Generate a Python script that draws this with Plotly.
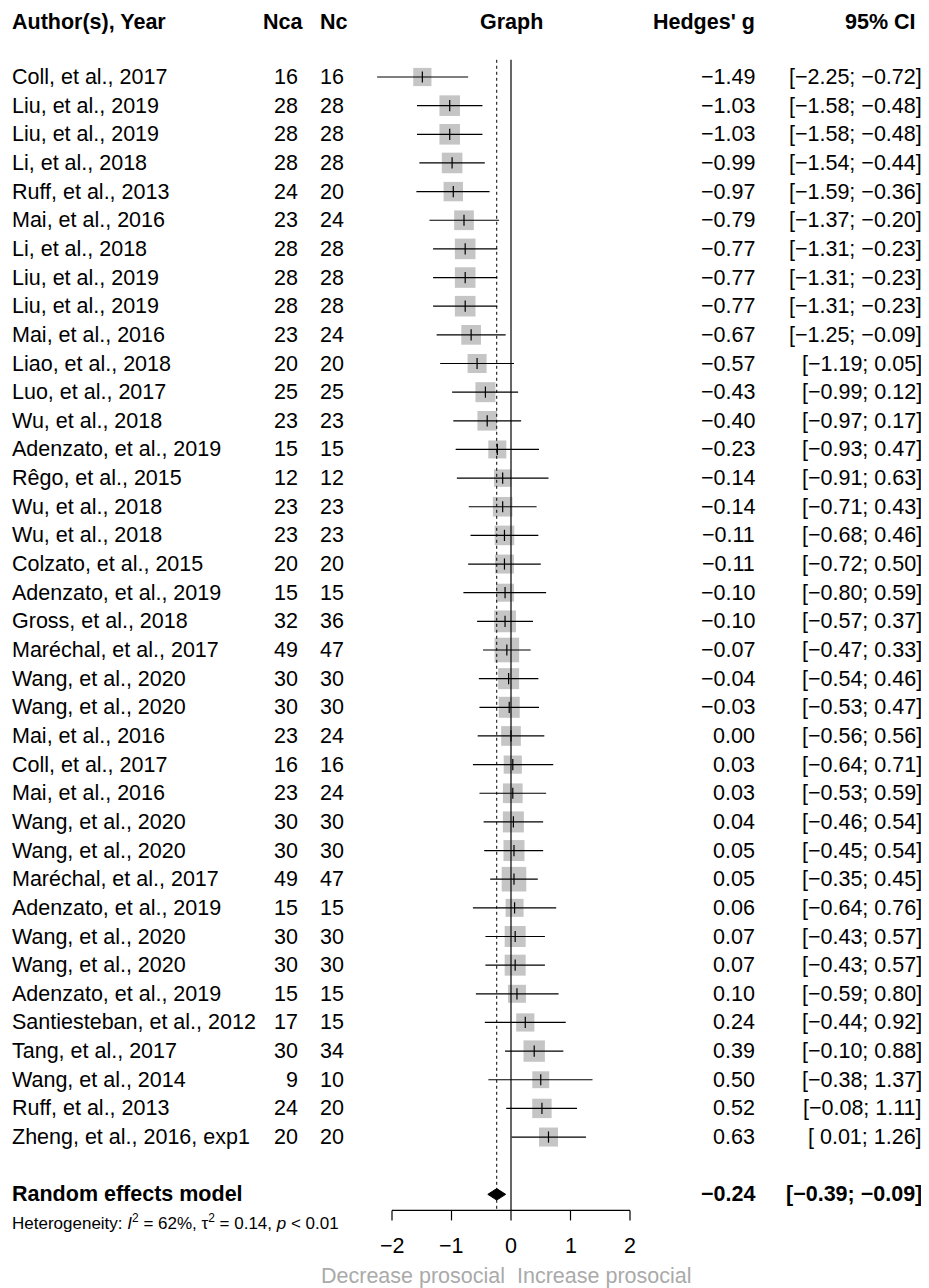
import plotly.graph_objects as go

authors = ["Coll, et al., 2017", "Liu, et al., 2019", "Liu, et al., 2019", "Li, et al., 2018",
           "Ruff, et al., 2013", "Mai, et al., 2016", "Li, et al., 2018", "Liu, et al., 2019",
           "Liu, et al., 2019", "Mai, et al., 2016", "Liao, et al., 2018", "Luo, et al., 2017",
           "Wu, et al., 2018", "Adenzato, et al., 2019", "Rêgo, et al., 2015", "Wu, et al., 2018",
           "Wu, et al., 2018", "Colzato, et al., 2015", "Adenzato, et al., 2019", "Gross, et al., 2018",
           "Maréchal, et al., 2017", "Wang, et al., 2020", "Wang, et al., 2020", "Mai, et al., 2016",
           "Coll, et al., 2017", "Mai, et al., 2016", "Wang, et al., 2020", "Wang, et al., 2020",
           "Maréchal, et al., 2017", "Adenzato, et al., 2019", "Wang, et al., 2020", "Wang, et al., 2020",
           "Adenzato, et al., 2019", "Santiesteban, et al., 2012", "Tang, et al., 2017", "Wang, et al., 2014",
           "Ruff, et al., 2013", "Zheng, et al., 2016, exp1"]
nca = [16, 28, 28, 28, 24, 23, 28, 28, 28, 23, 20, 25, 23, 15, 12, 23, 23, 20, 15, 32, 49, 30, 30, 23,
       16, 23, 30, 30, 49, 15, 30, 30, 15, 17, 30, 9, 24, 20]
nc = [16, 28, 28, 28, 20, 24, 28, 28, 28, 24, 20, 25, 23, 15, 12, 23, 23, 20, 15, 36, 47, 30, 30, 24,
      16, 24, 30, 30, 47, 15, 30, 30, 15, 15, 34, 10, 20, 20]
g = [-1.49, -1.03, -1.03, -0.99, -0.97, -0.79, -0.77, -0.77, -0.77, -0.67, -0.57, -0.43, -0.40, -0.23,
     -0.14, -0.14, -0.11, -0.11, -0.10, -0.10, -0.07, -0.04, -0.03, 0.00, 0.03, 0.03, 0.04, 0.05, 0.05,
     0.06, 0.07, 0.07, 0.10, 0.24, 0.39, 0.50, 0.52, 0.63]
lo = [-2.25, -1.58, -1.58, -1.54, -1.59, -1.37, -1.31, -1.31, -1.31, -1.25, -1.19, -0.99, -0.97, -0.93,
      -0.91, -0.71, -0.68, -0.72, -0.80, -0.57, -0.47, -0.54, -0.53, -0.56, -0.64, -0.53, -0.46, -0.45,
      -0.35, -0.64, -0.43, -0.43, -0.59, -0.44, -0.10, -0.38, -0.08, 0.01]
hi = [-0.72, -0.48, -0.48, -0.44, -0.36, -0.20, -0.23, -0.23, -0.23, -0.09, 0.05, 0.12, 0.17, 0.47,
      0.63, 0.43, 0.46, 0.50, 0.59, 0.37, 0.33, 0.46, 0.47, 0.56, 0.71, 0.59, 0.54, 0.54, 0.45, 0.76,
      0.57, 0.57, 0.80, 0.92, 0.88, 1.37, 1.11, 1.26]
re_g, re_lo, re_hi = -0.24, -0.39, -0.09
ticks = [-2, -1, 0, 1, 2]

OFF = 8  # page body margin
W, H = 929 - OFF, 1288 - OFF
FONT = "Liberation Sans, Arial, sans-serif"
FS = 21.5
n = len(authors)
rows = list(range(n))
re_row = 39.0
axis_row = 39.56
y0px = 77 - OFF
step = 28.65


def fmt(v):
    s = f"{abs(v):.2f}"
    return ("\u2212" + s) if v < 0 else s


def fmt_ci(a, b):
    left = fmt(a) if a < 0 else " " + fmt(a)
    return f"[{left}; {fmt(b)}]"


fig = go.Figure()

for i in rows:
    fig.add_shape(type="line", x0=lo[i], x1=hi[i], y0=i, y1=i, line=dict(color="black", width=1.2))

sizes = [15 + 0.1 * (a + b) for a, b in zip(nca, nc)]
fig.add_trace(go.Scatter(x=g, y=rows, mode="markers",
                         marker=dict(symbol="square", size=sizes, color="#adadad", line=dict(width=0))))
fig.add_trace(go.Scatter(x=g, y=rows, mode="markers",
                         marker=dict(symbol="line-ns", size=8, line=dict(color="black", width=1.2))))

fig.add_shape(type="line", x0=0, x1=0, y0=-0.6, y1=axis_row, line=dict(color="black", width=1.2))
fig.add_shape(type="line", x0=re_g, x1=re_g, y0=-0.6, y1=axis_row, line=dict(color="black", width=1, dash="dot"))

fig.add_shape(type="path",
              path=f"M {re_lo} {re_row} L {re_g} {re_row - 0.2} L {re_hi} {re_row} L {re_g} {re_row + 0.2} Z",
              fillcolor="black", line=dict(color="black", width=1))

fig.add_shape(type="line", x0=ticks[0], x1=ticks[-1], y0=axis_row, y1=axis_row, line=dict(color="black", width=1.2))
for t in ticks:
    fig.add_shape(type="line", x0=t, x1=t, y0=axis_row, y1=axis_row + 0.35, line=dict(color="black", width=1.2))
    fig.add_annotation(x=t, y=40.8, text=fmt(t).replace(".00", ""), showarrow=False,
                       font=dict(size=FS, color="black", family=FONT))
fig.add_annotation(x=-0.06, y=41.85, text="Decrease prosocial", xanchor="right", showarrow=False,
                   font=dict(size=FS, color="#aaaaaa", family=FONT))
fig.add_annotation(x=0.06, y=41.85, text="Increase prosocial", xanchor="left", showarrow=False,
                   font=dict(size=FS, color="#aaaaaa", family=FONT))


def txt(px, y, s, anchor="left", bold=False, size=FS):
    fig.add_annotation(x=(px - OFF) / W, xref="paper", y=y, text=f"<b>{s}</b>" if bold else s, xanchor=anchor,
                       showarrow=False, font=dict(size=size, color="black", family=FONT))


hy = -1.92
txt(10, hy, "Author(s), Year", bold=True)
txt(305, hy, "Nca", "right", True)
txt(350, hy, "Nc", "right", True)
txt(511, hy, "Graph", "center", True)
txt(757, hy, "Hedges' g", "right", True)
txt(880, hy, "95% CI", "center", True)

for i in rows:
    txt(10, i, authors[i])
    txt(300, i, str(nca[i]), "right")
    txt(346, i, str(nc[i]), "right")
    txt(757, i, fmt(g[i]), "right")
    txt(924, i, fmt_ci(lo[i], hi[i]), "right")

txt(10, re_row, "Random effects model", bold=True)
txt(757, re_row, fmt(re_g), "right", True)
txt(924, re_row, fmt_ci(re_lo, re_hi), "right", True)
txt(10, 39.97, "Heterogeneity: <i>I</i><sup>2</sup> = 62%, \u03c4<sup>2</sup> = 0.14, <i>p</i> < 0.01", size=17)

unit = 59.5
zero_px = 511 - OFF
fig.update_xaxes(range=[-zero_px / unit, (W - zero_px) / unit], visible=False)
fig.update_yaxes(range=[(H - y0px) / step, -y0px / step], visible=False)
fig.update_layout(width=W, height=H, margin=dict(l=0, r=0, t=0, b=0), showlegend=False,
                  plot_bgcolor="white", paper_bgcolor="white")
fig.write_html("out.html")
